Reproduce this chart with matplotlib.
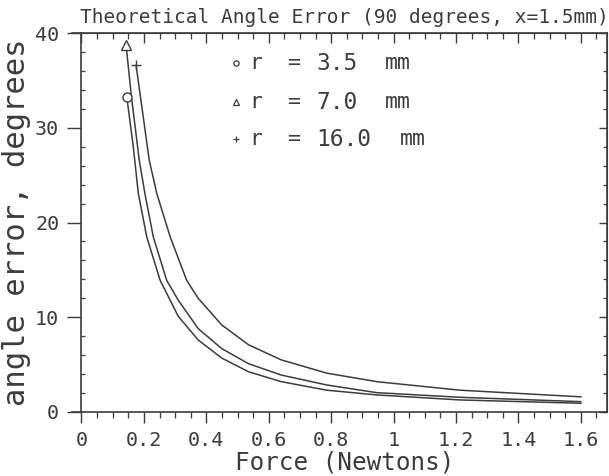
import matplotlib
matplotlib.use("Agg")
import matplotlib.pyplot as plt
from matplotlib.lines import Line2D
from matplotlib.ticker import MultipleLocator, FuncFormatter

# ---- data ----
force_r35 = [0.145, 0.166, 0.182, 0.209, 0.252, 0.31, 0.374, 0.449, 0.535, 0.64, 0.786, 0.946, 1.213, 1.6]
err_r35 = [33.3, 28.0, 23.1, 18.5, 13.9, 10.1, 7.6, 5.7, 4.25, 3.2, 2.3, 1.8, 1.27, 0.92]

force_r70 = [0.143, 0.16, 0.185, 0.203, 0.23, 0.273, 0.31, 0.374, 0.449, 0.535, 0.64, 0.786, 0.946, 1.213, 1.6]
err_r70 = [38.7, 33.3, 26.6, 23.1, 18.5, 13.9, 11.8, 8.8, 6.7, 5.1, 3.9, 2.85, 2.04, 1.55, 1.09]

force_r160 = [0.175, 0.217, 0.241, 0.284, 0.337, 0.374, 0.449, 0.535, 0.64, 0.786, 0.946, 1.213, 1.6]
err_r160 = [36.6, 26.6, 23.1, 18.5, 13.9, 12.0, 9.2, 7.1, 5.5, 4.1, 3.2, 2.3, 1.6]

radius_values = ["3.5", "7.0", "16.0"]
markers = ["o", "^", "+"]
title = "Theoretical Angle Error (90 degrees, x=1.5mm)"
xlabel = "Force (Newtons)"
ylabel = "angle error, degrees"

INK = "#3c3c3c"
FONT = "DejaVu Sans Mono"
plt.rcParams["font.family"] = FONT

fig = plt.figure(figsize=(6.09, 4.76), dpi=100)
ax = fig.add_axes([0.1338, 0.1345, 0.863, 0.796])

series = [(force_r35, err_r35), (force_r70, err_r70), (force_r160, err_r160)]
for (f, e), m in zip(series, markers):
    ax.plot(f, e, color=INK, lw=1.1)
    ax.plot(f[0], e[0], marker=m, ms=7 if m != "o" else 6.5, mfc="white" if m != "+" else INK,
            mec=INK, mew=1.0, ls="none", zorder=3)

ax.set_xlim(0, 1.684)
ax.set_ylim(0, 40)

ax.xaxis.set_major_locator(MultipleLocator(0.2))
ax.xaxis.set_minor_locator(MultipleLocator(0.05))
ax.yaxis.set_major_locator(MultipleLocator(10))
ax.yaxis.set_minor_locator(MultipleLocator(2))
ax.xaxis.set_major_formatter(FuncFormatter(lambda v, p: f"{v:g}"))
ax.yaxis.set_major_formatter(FuncFormatter(lambda v, p: f"{v:g}"))

ax.tick_params(axis="x", which="major", direction="out", length=8, width=1.0, color=INK,
               labelsize=14.5, labelcolor=INK, pad=6)
ax.tick_params(axis="x", which="minor", direction="out", length=4, width=0.9, color=INK)
ax.tick_params(axis="y", which="major", direction="out", length=10, width=1.0, color=INK,
               labelsize=14.5, labelcolor=INK, pad=6)
ax.tick_params(axis="y", which="minor", direction="in", length=3, width=0.9, color=INK)

for s in ax.spines.values():
    s.set_color(INK)
    s.set_linewidth(1.2)

# small extension of the horizontal frame lines to the left, as in the plotter output
for yy in (0, 1):
    ax.add_line(Line2D([-0.018, 0], [yy, yy], transform=ax.transAxes, color=INK, lw=1.2,
                       clip_on=False))

top = ax.secondary_xaxis("top")
top.xaxis.set_major_locator(MultipleLocator(0.2))
top.xaxis.set_minor_locator(MultipleLocator(0.05))
top.tick_params(which="major", direction="in", length=7, width=1.0, color=INK, labeltop=False)
top.tick_params(which="minor", direction="in", length=4, width=0.9, color=INK)
top.spines["top"].set_color(INK)

right = ax.secondary_yaxis("right")
right.yaxis.set_major_locator(MultipleLocator(10))
right.yaxis.set_minor_locator(MultipleLocator(2))
right.tick_params(which="major", direction="in", length=6, width=1.0, color=INK, labelright=False)
right.tick_params(which="minor", direction="in", length=3, width=0.9, color=INK)
right.spines["right"].set_color(INK)

ax.set_title(title, fontsize=14, color=INK, pad=7)
ax.set_xlabel(xlabel, fontsize=17.5, color=INK, labelpad=0)
ax.set_ylabel(ylabel, fontsize=22, color=INK, labelpad=3)

# legend block drawn as text pieces (plotter-style spacing)
def px2x(px):
    return (px - 81.5) / 312.0

leg_y = [36.8, 32.7, 28.8]
mm_px = [385, 385, 400]
for val, m, yv, mx in zip(radius_values, markers, leg_y, mm_px):
    ax.plot(px2x(236), yv, marker=m, ms=3.8, mfc="none", mec=INK, mew=0.9, ls="none")
    ax.text(px2x(249), yv, "r", fontsize=15.5, color=INK, va="center", ha="left")
    ax.text(px2x(287), yv, "=", fontsize=15.5, color=INK, va="center", ha="left")
    ax.text(px2x(316), yv, val, fontsize=16.5, color=INK, va="center", ha="left")
    ax.text(px2x(mx), yv, "mm", fontsize=15.5, color=INK, va="center", ha="left")

fig.savefig("out.png", dpi=100, facecolor="white")
